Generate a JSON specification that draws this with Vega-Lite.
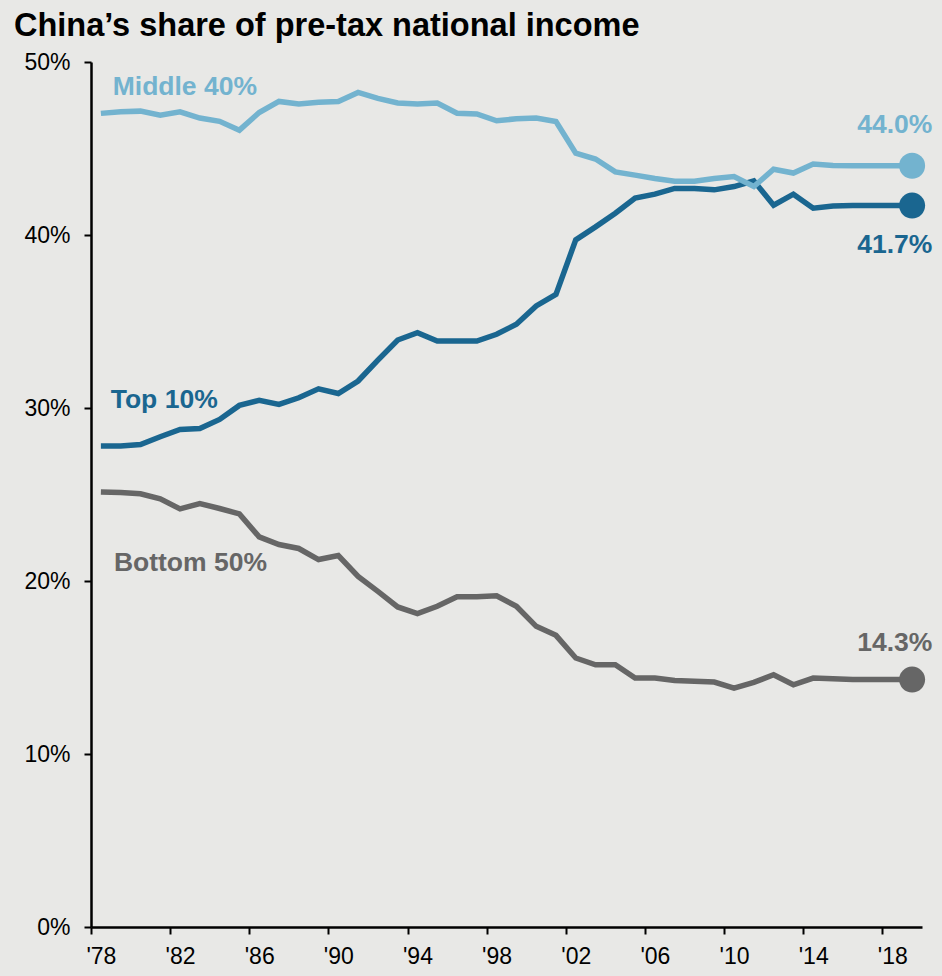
{
  "$schema": "https://vega.github.io/schema/vega-lite/v6.json",
  "autosize": {"type": "none"},
  "width": 831,
  "height": 865,
  "padding": {"left": 91, "top": 62, "right": 20, "bottom": 49},
  "background": "#e8e8e6",
  "config": {
    "view": {"stroke": null},
    "font": "Liberation Sans",
    "axis": {"grid": false, "domainColor": "#000000", "tickColor": "#000000", "labelColor": "#000000", "labelFont": "Liberation Sans", "labelFontSize": 23, "title": null, "domainWidth": 2.5, "tickWidth": 2, "tickSize": 7}
  },
  "title": {"text": "China’s share of pre-tax national income", "anchor": "start", "frame": "group", "dx": -77, "dy": 35, "offset": 18, "fontSize": 32.5, "font": "Liberation Sans", "fontWeight": "bold", "color": "#000000", "baseline": "alphabetic"},
  "datasets": {
    "shares": [
      {"year": 1978, "group": "Bottom 50%", "value": 0.2515},
      {"year": 1979, "group": "Bottom 50%", "value": 0.2512},
      {"year": 1980, "group": "Bottom 50%", "value": 0.2504},
      {"year": 1981, "group": "Bottom 50%", "value": 0.2475},
      {"year": 1982, "group": "Bottom 50%", "value": 0.2417},
      {"year": 1983, "group": "Bottom 50%", "value": 0.2448},
      {"year": 1984, "group": "Bottom 50%", "value": 0.2419},
      {"year": 1985, "group": "Bottom 50%", "value": 0.2388},
      {"year": 1986, "group": "Bottom 50%", "value": 0.2255},
      {"year": 1987, "group": "Bottom 50%", "value": 0.2211},
      {"year": 1988, "group": "Bottom 50%", "value": 0.2188},
      {"year": 1989, "group": "Bottom 50%", "value": 0.2124},
      {"year": 1990, "group": "Bottom 50%", "value": 0.2147},
      {"year": 1991, "group": "Bottom 50%", "value": 0.2027},
      {"year": 1992, "group": "Bottom 50%", "value": 0.1940},
      {"year": 1993, "group": "Bottom 50%", "value": 0.1850},
      {"year": 1994, "group": "Bottom 50%", "value": 0.1811},
      {"year": 1995, "group": "Bottom 50%", "value": 0.1854},
      {"year": 1996, "group": "Bottom 50%", "value": 0.1909},
      {"year": 1997, "group": "Bottom 50%", "value": 0.1909},
      {"year": 1998, "group": "Bottom 50%", "value": 0.1915},
      {"year": 1999, "group": "Bottom 50%", "value": 0.1854},
      {"year": 2000, "group": "Bottom 50%", "value": 0.1738},
      {"year": 2001, "group": "Bottom 50%", "value": 0.1686},
      {"year": 2002, "group": "Bottom 50%", "value": 0.1555},
      {"year": 2003, "group": "Bottom 50%", "value": 0.1516},
      {"year": 2004, "group": "Bottom 50%", "value": 0.1516},
      {"year": 2005, "group": "Bottom 50%", "value": 0.1439},
      {"year": 2006, "group": "Bottom 50%", "value": 0.1439},
      {"year": 2007, "group": "Bottom 50%", "value": 0.1425},
      {"year": 2008, "group": "Bottom 50%", "value": 0.1421},
      {"year": 2009, "group": "Bottom 50%", "value": 0.1416},
      {"year": 2010, "group": "Bottom 50%", "value": 0.1381},
      {"year": 2011, "group": "Bottom 50%", "value": 0.1414},
      {"year": 2012, "group": "Bottom 50%", "value": 0.1458},
      {"year": 2013, "group": "Bottom 50%", "value": 0.1400},
      {"year": 2014, "group": "Bottom 50%", "value": 0.1439},
      {"year": 2015, "group": "Bottom 50%", "value": 0.1435},
      {"year": 2016, "group": "Bottom 50%", "value": 0.1430},
      {"year": 2017, "group": "Bottom 50%", "value": 0.1430},
      {"year": 2018, "group": "Bottom 50%", "value": 0.1430},
      {"year": 2019, "group": "Bottom 50%", "value": 0.1430},
      {"year": 1978, "group": "Top 10%", "value": 0.2780},
      {"year": 1979, "group": "Top 10%", "value": 0.2780},
      {"year": 1980, "group": "Top 10%", "value": 0.2789},
      {"year": 1981, "group": "Top 10%", "value": 0.2834},
      {"year": 1982, "group": "Top 10%", "value": 0.2876},
      {"year": 1983, "group": "Top 10%", "value": 0.2882},
      {"year": 1984, "group": "Top 10%", "value": 0.2934},
      {"year": 1985, "group": "Top 10%", "value": 0.3015},
      {"year": 1986, "group": "Top 10%", "value": 0.3044},
      {"year": 1987, "group": "Top 10%", "value": 0.3021},
      {"year": 1988, "group": "Top 10%", "value": 0.3059},
      {"year": 1989, "group": "Top 10%", "value": 0.3111},
      {"year": 1990, "group": "Top 10%", "value": 0.3084},
      {"year": 1991, "group": "Top 10%", "value": 0.3156},
      {"year": 1992, "group": "Top 10%", "value": 0.3277},
      {"year": 1993, "group": "Top 10%", "value": 0.3393},
      {"year": 1994, "group": "Top 10%", "value": 0.3435},
      {"year": 1995, "group": "Top 10%", "value": 0.3387},
      {"year": 1996, "group": "Top 10%", "value": 0.3387},
      {"year": 1997, "group": "Top 10%", "value": 0.3387},
      {"year": 1998, "group": "Top 10%", "value": 0.3426},
      {"year": 1999, "group": "Top 10%", "value": 0.3484},
      {"year": 2000, "group": "Top 10%", "value": 0.3590},
      {"year": 2001, "group": "Top 10%", "value": 0.3657},
      {"year": 2002, "group": "Top 10%", "value": 0.3972},
      {"year": 2003, "group": "Top 10%", "value": 0.4047},
      {"year": 2004, "group": "Top 10%", "value": 0.4126},
      {"year": 2005, "group": "Top 10%", "value": 0.4213},
      {"year": 2006, "group": "Top 10%", "value": 0.4236},
      {"year": 2007, "group": "Top 10%", "value": 0.4269},
      {"year": 2008, "group": "Top 10%", "value": 0.4269},
      {"year": 2009, "group": "Top 10%", "value": 0.4261},
      {"year": 2010, "group": "Top 10%", "value": 0.4280},
      {"year": 2011, "group": "Top 10%", "value": 0.4313},
      {"year": 2012, "group": "Top 10%", "value": 0.4172},
      {"year": 2013, "group": "Top 10%", "value": 0.4236},
      {"year": 2014, "group": "Top 10%", "value": 0.4155},
      {"year": 2015, "group": "Top 10%", "value": 0.4168},
      {"year": 2016, "group": "Top 10%", "value": 0.4170},
      {"year": 2017, "group": "Top 10%", "value": 0.4170},
      {"year": 2018, "group": "Top 10%", "value": 0.4170},
      {"year": 2019, "group": "Top 10%", "value": 0.4170},
      {"year": 1978, "group": "Middle 40%", "value": 0.4703},
      {"year": 1979, "group": "Middle 40%", "value": 0.4713},
      {"year": 1980, "group": "Middle 40%", "value": 0.4716},
      {"year": 1981, "group": "Middle 40%", "value": 0.4693},
      {"year": 1982, "group": "Middle 40%", "value": 0.4712},
      {"year": 1983, "group": "Middle 40%", "value": 0.4676},
      {"year": 1984, "group": "Middle 40%", "value": 0.4657},
      {"year": 1985, "group": "Middle 40%", "value": 0.4606},
      {"year": 1986, "group": "Middle 40%", "value": 0.4708},
      {"year": 1987, "group": "Middle 40%", "value": 0.4772},
      {"year": 1988, "group": "Middle 40%", "value": 0.4757},
      {"year": 1989, "group": "Middle 40%", "value": 0.4767},
      {"year": 1990, "group": "Middle 40%", "value": 0.4772},
      {"year": 1991, "group": "Middle 40%", "value": 0.4824},
      {"year": 1992, "group": "Middle 40%", "value": 0.4790},
      {"year": 1993, "group": "Middle 40%", "value": 0.4763},
      {"year": 1994, "group": "Middle 40%", "value": 0.4757},
      {"year": 1995, "group": "Middle 40%", "value": 0.4763},
      {"year": 1996, "group": "Middle 40%", "value": 0.4704},
      {"year": 1997, "group": "Middle 40%", "value": 0.4700},
      {"year": 1998, "group": "Middle 40%", "value": 0.4660},
      {"year": 1999, "group": "Middle 40%", "value": 0.4672},
      {"year": 2000, "group": "Middle 40%", "value": 0.4676},
      {"year": 2001, "group": "Middle 40%", "value": 0.4656},
      {"year": 2002, "group": "Middle 40%", "value": 0.4473},
      {"year": 2003, "group": "Middle 40%", "value": 0.4439},
      {"year": 2004, "group": "Middle 40%", "value": 0.4365},
      {"year": 2005, "group": "Middle 40%", "value": 0.4346},
      {"year": 2006, "group": "Middle 40%", "value": 0.4327},
      {"year": 2007, "group": "Middle 40%", "value": 0.4311},
      {"year": 2008, "group": "Middle 40%", "value": 0.4311},
      {"year": 2009, "group": "Middle 40%", "value": 0.4327},
      {"year": 2010, "group": "Middle 40%", "value": 0.4338},
      {"year": 2011, "group": "Middle 40%", "value": 0.4280},
      {"year": 2012, "group": "Middle 40%", "value": 0.4380},
      {"year": 2013, "group": "Middle 40%", "value": 0.4358},
      {"year": 2014, "group": "Middle 40%", "value": 0.4410},
      {"year": 2015, "group": "Middle 40%", "value": 0.4402},
      {"year": 2016, "group": "Middle 40%", "value": 0.4400},
      {"year": 2017, "group": "Middle 40%", "value": 0.4400},
      {"year": 2018, "group": "Middle 40%", "value": 0.4400},
      {"year": 2019, "group": "Middle 40%", "value": 0.4400}
    ]
  },
  "data": {"name": "shares"},
  "encoding": {
    "x": {"field": "year", "type": "quantitative", "scale": {"domain": [1977.5, 2019.5], "nice": false, "zero": false},
      "axis": {"values": [1978, 1982, 1986, 1990, 1994, 1998, 2002, 2006, 2010, 2014, 2018], "labelExpr": "'\\'' + slice(toString(datum.value), 2)", "tickOffset": -9.89, "labelOffset": 9.89, "labelPadding": 11, "labelFlush": false, "labelOverlap": false}},
    "y": {"field": "value", "type": "quantitative", "scale": {"domain": [0, 0.5], "nice": false},
      "axis": {"values": [0, 0.1, 0.2, 0.3, 0.4, 0.5], "format": ".0%", "labelPadding": 14}},
    "color": {"field": "group", "type": "nominal", "legend": null,
      "scale": {"domain": ["Bottom 50%", "Top 10%", "Middle 40%"], "range": ["#666666", "#1a6690", "#73b3cf"]}}
  },
  "layer": [
    {"mark": {"type": "line", "strokeWidth": 5.5, "strokeJoin": "miter"}},
    {"transform": [{"filter": "datum.year == 2019"}], "mark": {"type": "point", "filled": true, "opacity": 1, "size": 676, "shape": "circle"}},
    {"transform": [{"filter": "datum.year == 1978 && datum.group == 'Middle 40%'"}], "mark": {"type": "text", "align": "left", "baseline": "alphabetic", "dx": 11.8, "dy": -18.4, "fontSize": 26.5, "fontWeight": "bold"}, "encoding": {"text": {"field": "group"}}},
    {"transform": [{"filter": "datum.year == 1978 && datum.group == 'Top 10%'"}], "mark": {"type": "text", "align": "left", "baseline": "alphabetic", "dx": 9.8, "dy": -38, "fontSize": 26.5, "fontWeight": "bold"}, "encoding": {"text": {"field": "group"}}},
    {"transform": [{"filter": "datum.year == 1978 && datum.group == 'Bottom 50%'"}], "mark": {"type": "text", "align": "left", "baseline": "alphabetic", "dx": 13, "dy": 78.8, "fontSize": 26.5, "fontWeight": "bold"}, "encoding": {"text": {"field": "group"}}},
    {"transform": [{"filter": "datum.year == 2019 && datum.group == 'Middle 40%'"}], "mark": {"type": "text", "align": "right", "baseline": "alphabetic", "dx": 20.2, "dy": -32.8, "fontSize": 26.5, "fontWeight": "bold"}, "encoding": {"text": {"field": "value", "format": ".1%"}}},
    {"transform": [{"filter": "datum.year == 2019 && datum.group == 'Top 10%'"}], "mark": {"type": "text", "align": "right", "baseline": "alphabetic", "dx": 20.2, "dy": 47.4, "fontSize": 26.5, "fontWeight": "bold"}, "encoding": {"text": {"field": "value", "format": ".1%"}}},
    {"transform": [{"filter": "datum.year == 2019 && datum.group == 'Bottom 50%'"}], "mark": {"type": "text", "align": "right", "baseline": "alphabetic", "dx": 20.2, "dy": -28.9, "fontSize": 26.5, "fontWeight": "bold"}, "encoding": {"text": {"field": "value", "format": ".1%"}}}
  ]
}
